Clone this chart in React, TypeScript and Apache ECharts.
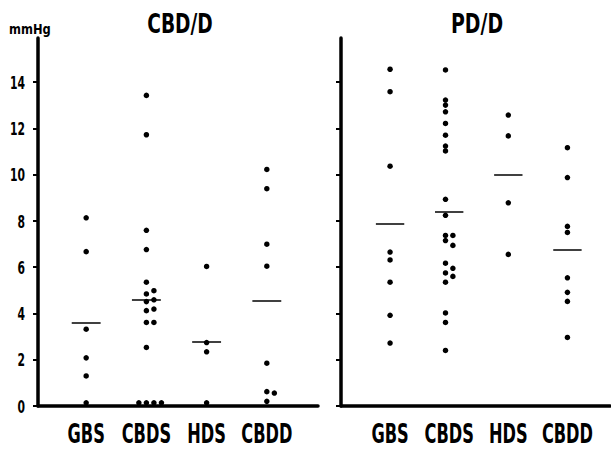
import React, { useEffect, useRef } from 'react';
import * as echarts from 'echarts';

const categories = ['GBS', 'CBDS', 'HDS', 'CBDD'];
const yTickValues = [0, 2, 4, 6, 8, 10, 12, 14];
const catPositions = [1, 2, 3, 4];
const panelTitles = ['CBD/D', 'PD/D'];
const unitLabel = 'mmHg';

// CBD/D panel values (mmHg) and jitter columns
const cbdGBS = [8.13, 6.67, 3.32, 2.08, 1.3, 0.14];
const cbdGBSCols = [0, 0, 0, 0, 0, 0];
const cbdCBDS = [13.42, 11.72, 7.59, 6.76, 5.35, 4.98, 4.84, 4.59, 4.51, 4.19, 4.12, 3.61, 3.61, 2.53, 0.14, 0.14, 0.14, 0.14];
const cbdCBDSCols = [0, 0, 0, 0, 0, 1, 0, 1, 0, 1, 0, 0, 1, 0, -1, 0, 1, 2];
const cbdHDS = [6.03, 2.74, 2.34, 0.14];
const cbdHDSCols = [0, 0, 0, 0];
const cbdCBDD = [10.22, 9.39, 6.99, 6.04, 1.85, 0.62, 0.56, 0.2];
const cbdCBDDCols = [0, 0, 0, 0, 0, 0, 1, 0];
const cbdMeans = [3.58, 4.61, 2.79, 4.55];

// PD/D panel values (mmHg) and jitter columns
const pdGBS = [14.55, 13.58, 10.36, 6.65, 6.31, 5.35, 3.92, 2.72];
const pdGBSCols = [0, 0, 0, 0, 0, 0, 0, 0];
const pdCBDS = [14.52, 13.22, 13.0, 12.71, 12.21, 11.7, 11.23, 11.02, 8.93, 8.24, 7.37, 7.37, 7.15, 6.94, 6.17, 5.95, 5.75, 5.6, 5.35, 4.02, 3.61, 2.4];
const pdCBDSCols = [-0.5, -0.5, -0.5, -0.5, -0.5, -0.5, -0.5, -0.5, -0.5, -0.5, -0.5, 0.5, -0.5, 0.5, -0.5, 0.5, -0.5, 0.5, -0.5, -0.5, -0.5, -0.5];
const pdHDS = [12.57, 11.67, 8.78, 6.55];
const pdHDSCols = [0, 0, 0, 0];
const pdCBDD = [11.16, 9.87, 7.76, 7.5, 5.54, 4.91, 4.52, 2.96];
const pdCBDDCols = [0, 0, 0, 0, 0, 0, 0, 0];
const pdMeans = [7.88, 8.38, 10.01, 6.75];

const FONT = "'DejaVu Sans', sans-serif";
const STEP = 0.125;
const HALF = 0.24;

function points(cat: number, vals: number[], cols: number[]) {
  return vals.map((v, i) => [cat + cols[i] * STEP, v]);
}

function meanLines(means: number[]) {
  return means.map((m, i) => [
    { coord: [catPositions[i] - HALF, m] },
    { coord: [catPositions[i] + HALF, m] },
  ]);
}

function condText(x: number, y: number, text: string, size: number, sx: number, align: string) {
  return {
    type: 'text',
    x,
    y,
    scaleX: sx,
    silent: true,
    style: {
      text,
      align,
      verticalAlign: 'middle',
      font: `bold ${size}px ${FONT}`,
      fill: '#000',
    },
  };
}

export default function App() {
  const ref = useRef<HTMLDivElement>(null);
  useEffect(() => {
    if (!ref.current) return;
    const chart = echarts.init(ref.current, undefined, { renderer: 'svg' });

    const leftData = [
      ...points(1, cbdGBS, cbdGBSCols),
      ...points(2, cbdCBDS, cbdCBDSCols),
      ...points(3, cbdHDS, cbdHDSCols),
      ...points(4, cbdCBDD, cbdCBDDCols),
    ];
    const rightData = [
      ...points(1, pdGBS, pdGBSCols),
      ...points(2, pdCBDS, pdCBDSCols),
      ...points(3, pdHDS, pdHDSCols),
      ...points(4, pdCBDD, pdCBDDCols),
    ];

    const xAxisBase = (min: number, max: number, idx: number) => ({
      type: 'value',
      gridIndex: idx,
      min,
      max,
      axisLine: { show: true, onZero: false, lineStyle: { color: '#000', width: 3.5 } },
      axisTick: { show: false },
      splitLine: { show: false },
      axisLabel: { show: false },
    });

    const yAxisBase = (idx: number) => ({
      type: 'value',
      gridIndex: idx,
      min: 0,
      max: 15.9,
      axisLine: { show: true, lineStyle: { color: '#000', width: 3.5 } },
      axisTick: {
        show: true,
        customValues: yTickValues,
        length: 5,
        inside: false,
        lineStyle: { color: '#000', width: 2 },
      },
      splitLine: { show: false },
      axisLabel: { show: false },
    });

    const markLineCfg = (means: number[]) => ({
      silent: true,
      symbol: ['none', 'none'],
      label: { show: false },
      lineStyle: { color: '#000', width: 1.5, type: 'solid' },
      data: meanLines(means),
    });

    chart.setOption({
      animation: false,
      backgroundColor: '#fff',
      grid: [
        { left: 38, top: 38, width: 280, height: 368 },
        { left: 341, top: 38, width: 269, height: 368 },
      ],
      xAxis: [xAxisBase(0.2, 4.85, 0), xAxisBase(0.17, 4.72, 1)],
      yAxis: [yAxisBase(0), yAxisBase(1)],
      series: [
        {
          type: 'scatter',
          xAxisIndex: 0,
          yAxisIndex: 0,
          data: leftData,
          symbolSize: 5.5,
          itemStyle: { color: '#000', opacity: 1 },
          silent: true,
          markLine: markLineCfg(cbdMeans),
        },
        {
          type: 'scatter',
          xAxisIndex: 1,
          yAxisIndex: 1,
          data: rightData,
          symbolSize: 5.5,
          itemStyle: { color: '#000', opacity: 1 },
          silent: true,
          markLine: markLineCfg(pdMeans),
        },
      ],
    });

    // Labels placed through the axes' own scales, drawn condensed
    const graphics: any[] = [];
    [0, 1].forEach((g) => {
      const base = chart.convertToPixel({ gridIndex: g }, [catPositions[0], 0]) as number[];
      categories.forEach((c, i) => {
        const p = chart.convertToPixel({ gridIndex: g }, [catPositions[i], 0]) as number[];
        graphics.push(condText(p[0], base[1] + 27, c, 27, 0.6, 'center'));
      });
    });
    yTickValues.forEach((v) => {
      const p = chart.convertToPixel({ gridIndex: 0 }, [0.2, v]) as number[];
      graphics.push(condText(p[0] - 13, p[1], String(v), 18, 0.6, 'right'));
    });
    graphics.push(condText(180, 23, panelTitles[0], 27, 0.69, 'center'));
    graphics.push(condText(477, 23, panelTitles[1], 27, 0.7, 'center'));
    graphics.push(condText(9, 29, unitLabel, 14, 0.82, 'left'));

    chart.setOption({ graphic: graphics });

    return () => chart.dispose();
  }, []);

  return (
    <div
      ref={ref}
      style={{ position: 'fixed', left: 0, top: 0, width: 611, height: 449, background: '#fff' }}
    />
  );
}
